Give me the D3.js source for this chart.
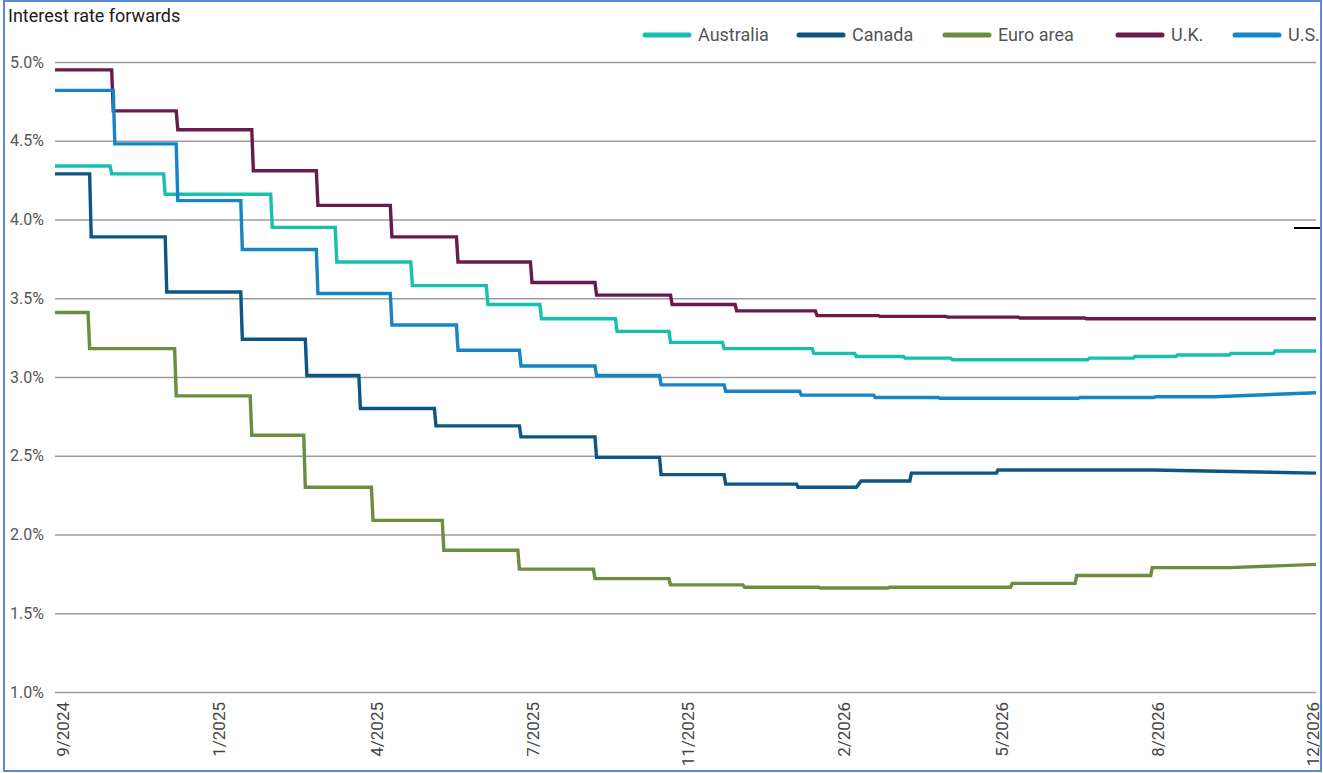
<!DOCTYPE html>
<html>
<head>
<meta charset="utf-8">
<script src="https://cdn.jsdelivr.net/npm/d3@7/dist/d3.min.js"></script>
<style>
  html, body { margin: 0; padding: 0; background: #ffffff; }
  svg { display: block; }
  text { font-family: Roboto, "Liberation Sans", sans-serif; }
</style>
</head>
<body>
<svg id="chart" width="1323" height="773"></svg>
<script>
// Series names, legend order
const seriesNames = ["Australia", "Canada", "Euro area", "U.K.", "U.S."];
const seriesColors = ["#17bfae", "#0c5584", "#6b8d3e", "#6a1a4b", "#1585c6"];

// Policy-rate forward paths: [date the level starts, rate %]
// entries tagged "ramp" move linearly from the previous point
const australia = [
  ["2024-09-25", 4.34], ["2024-10-31", 4.29], ["2024-12-04", 4.16],
  ["2025-02-10", 3.95], ["2025-03-23", 3.73], ["2025-05-10", 3.58],
  ["2025-06-27", 3.46], ["2025-07-31", 3.37], ["2025-09-17", 3.29],
  ["2025-10-21", 3.22], ["2025-11-24", 3.18], ["2026-01-20", 3.15],
  ["2026-02-16", 3.13], ["2026-03-19", 3.12], ["2026-04-18", 3.11],
  ["2026-07-14", 3.12], ["2026-08-12", 3.13], ["2026-09-08", 3.14],
  ["2026-10-12", 3.15], ["2026-11-09", 3.165], ["2026-12-05", 3.165]
];
const canada = [
  ["2024-09-25", 4.29], ["2024-10-18", 3.89], ["2024-12-05", 3.54],
  ["2025-01-22", 3.24], ["2025-03-04", 3.01], ["2025-04-07", 2.80],
  ["2025-05-25", 2.69], ["2025-07-18", 2.62], ["2025-09-04", 2.49],
  ["2025-10-15", 2.38], ["2025-11-25", 2.32], ["2026-01-10", 2.30],
  ["2026-02-16", 2.30], ["2026-02-19", 2.34, "ramp"], ["2026-03-23", 2.39],
  ["2026-05-17", 2.41], ["2026-08-23", 2.41], ["2026-12-05", 2.39, "ramp"]
];
const euroArea = [
  ["2024-09-25", 3.41], ["2024-10-17", 3.18], ["2024-12-11", 2.88],
  ["2025-01-28", 2.63], ["2025-03-03", 2.30], ["2025-04-15", 2.09],
  ["2025-05-30", 1.90], ["2025-07-17", 1.78], ["2025-09-03", 1.72],
  ["2025-10-21", 1.68], ["2025-12-07", 1.665], ["2026-01-24", 1.66],
  ["2026-03-09", 1.665], ["2026-05-26", 1.69], ["2026-07-06", 1.74],
  ["2026-08-23", 1.79], ["2026-10-11", 1.79], ["2026-12-05", 1.81, "ramp"]
];
const uk = [
  ["2024-09-25", 4.95], ["2024-11-01", 4.69], ["2024-12-12", 4.57],
  ["2025-01-29", 4.31], ["2025-03-11", 4.09], ["2025-04-27", 3.89],
  ["2025-06-08", 3.73], ["2025-07-25", 3.60], ["2025-09-04", 3.52],
  ["2025-10-22", 3.46], ["2025-12-02", 3.42], ["2026-01-22", 3.39],
  ["2026-03-03", 3.385], ["2026-04-15", 3.38], ["2026-05-31", 3.375],
  ["2026-07-12", 3.37], ["2026-12-05", 3.37]
];
const us = [
  ["2024-09-25", 4.82], ["2024-11-02", 4.48], ["2024-12-12", 4.12],
  ["2025-01-22", 3.81], ["2025-03-11", 3.53], ["2025-04-27", 3.33],
  ["2025-06-08", 3.17], ["2025-07-18", 3.07], ["2025-09-04", 3.01],
  ["2025-10-15", 2.95], ["2025-11-25", 2.91], ["2026-01-12", 2.885],
  ["2026-02-28", 2.87], ["2026-04-10", 2.865], ["2026-07-08", 2.87],
  ["2026-08-25", 2.875], ["2026-10-01", 2.875], ["2026-12-05", 2.90, "ramp"]
];
const seriesData = [australia, canada, euroArea, uk, us];

// Axis ticks
const yTicks = [1.0, 1.5, 2.0, 2.5, 3.0, 3.5, 4.0, 4.5, 5.0];
const xTickDates = ["2024-09-30", "2025-01-07", "2025-04-17", "2025-07-25",
  "2025-11-01", "2026-02-08", "2026-05-19", "2026-08-26", "2026-12-03"];
const dateDomain = ["2024-09-25", "2026-12-05"];

const parse = d3.timeParse("%Y-%m-%d");
const svg = d3.select("#chart");

const plotLeft = 55, plotRight = 1316, plotTop = 62, plotBottom = 692;
const x = d3.scaleTime().domain(dateDomain.map(parse)).range([plotLeft, plotRight]);
const y = d3.scaleLinear().domain([1, 5]).range([plotBottom, plotTop]);

// background
svg.append("rect").attr("x", 0).attr("y", 0).attr("width", 1323).attr("height", 773).attr("fill", "#fff");

// title
svg.append("text").attr("x", 8).attr("y", 22)
  .attr("font-size", 18).attr("fill", "#1a1a1a")
  .text("Interest rate forwards");

// y axis with gridlines
const yAxis = svg.append("g").attr("transform", `translate(${plotLeft},0)`)
  .call(d3.axisLeft(y).tickValues(yTicks)
    .tickSize(-(plotRight - plotLeft)).tickPadding(11)
    .tickFormat(d => d3.format(".1f")(d) + "%"));
yAxis.select(".domain").remove();
yAxis.selectAll(".tick line").attr("stroke", "#9c9c9c").attr("stroke-width", 1.6);
yAxis.selectAll(".tick text").attr("font-size", 16).attr("fill", "#555")
  .attr("font-family", "Roboto, sans-serif");

// x axis labels, rotated
const fmt = d3.timeFormat("%-m/%Y");
const xAxis = svg.append("g").attr("transform", `translate(0,${plotBottom})`)
  .call(d3.axisBottom(x).tickValues(xTickDates.map(parse)).tickSize(0).tickFormat(fmt));
xAxis.select(".domain").remove();
xAxis.selectAll(".tick text")
  .attr("transform", "rotate(-90)")
  .attr("text-anchor", "end")
  .attr("x", -10).attr("y", 0).attr("dy", "0.36em")
  .attr("font-size", 17).attr("fill", "#444")
  .attr("font-family", "Roboto, sans-serif");

// expand level lists into line knots: each new level is reached over one day
function knots(levels) {
  const pts = [];
  levels.forEach(([ds, v, mode], i) => {
    const d = parse(ds);
    if (i > 0 && mode !== "ramp") {
      pts.push([d3.timeDay.offset(d, -1), pts[pts.length - 1][1]]);
    }
    pts.push([d, v]);
  });
  return pts;
}

const line = d3.line().x(d => x(d[0])).y(d => y(d[1])).curve(d3.curveLinear);

svg.append("g").selectAll("path")
  .data(seriesData)
  .join("path")
  .attr("d", d => line(knots(d)))
  .attr("fill", "none")
  .attr("stroke", (d, i) => seriesColors[i])
  .attr("stroke-width", 3.4)
  .attr("stroke-linejoin", "miter");

// legend
const legendX = [645, 799, 945, 1118, 1235];
const legend = svg.append("g").selectAll("g")
  .data(seriesNames)
  .join("g")
  .attr("transform", (d, i) => `translate(${legendX[i]},35)`);
legend.append("line")
  .attr("x1", 0).attr("x2", 44).attr("y1", 0).attr("y2", 0)
  .attr("stroke", (d, i) => seriesColors[i])
  .attr("stroke-width", 5).attr("stroke-linecap", "round");
legend.append("text")
  .attr("x", 53).attr("y", 0).attr("dy", "0.36em")
  .attr("font-size", 18).attr("fill", "#555")
  .text(d => d);

// short black marker at right edge
svg.append("line").attr("x1", 1294).attr("x2", 1321).attr("y1", 228).attr("y2", 228)
  .attr("stroke", "#000").attr("stroke-width", 2);

// outer border
svg.append("rect").attr("x", 4).attr("y", 1).attr("width", 1317).attr("height", 770)
  .attr("fill", "none").attr("stroke", "#5a8bd6").attr("stroke-width", 2);
</script>
</body>
</html>
